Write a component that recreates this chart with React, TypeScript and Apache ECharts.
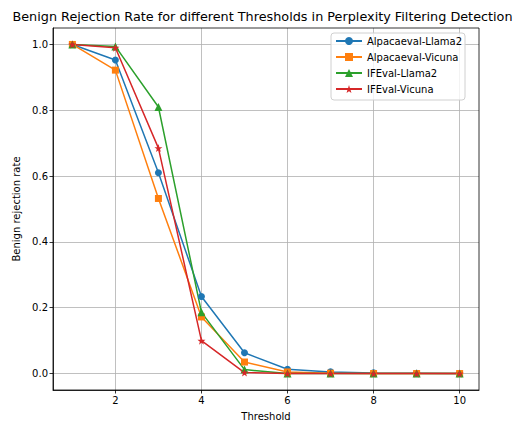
import React, { useEffect, useRef } from "react";
import * as echarts from "echarts";

const thresholds = [1, 2, 3, 4, 5, 6, 7, 8, 9, 10];
const alpacaLlama2 = [1.0, 0.953, 0.61, 0.234, 0.063, 0.013, 0.005, 0.002, 0.001, 0.0];
const alpacaVicuna = [1.0, 0.922, 0.532, 0.172, 0.035, 0.005, 0.001, 0.0, 0.0, 0.0];
const ifevalLlama2 = [1.0, 0.994, 0.81, 0.186, 0.012, 0.0, 0.0, 0.0, 0.0, 0.0];
const ifevalVicuna = [1.0, 0.99, 0.685, 0.1, 0.003, 0.0, 0.0, 0.0, 0.0, 0.0];
const xTicks = [2, 4, 6, 8, 10];
const yTicks = [0.0, 0.2, 0.4, 0.6, 0.8, 1.0];

const STAR =
  "path://M50,0 L61.8,35.4 L98.1,34.5 L69.1,56.5 L79.4,90.5 L50,70 L20.6,90.5 L30.9,56.5 L1.9,34.5 L38.2,35.4 Z";

const FONT = "DejaVu Sans";
const GL = 53, GR = 46, GT = 28, GB = 37;

export default function App() {
  const ref = useRef<HTMLDivElement>(null);
  useEffect(() => {
    if (!ref.current) return;
    const chart = echarts.init(ref.current, undefined, { renderer: "svg" });
    const mk = (name: string, vals: number[], color: string, symbol: string, size: number) => ({
      name,
      type: "line",
      data: thresholds.map((t, i) => [t, vals[i]]),
      symbol,
      symbolSize: size,
      showAllSymbol: true,
      lineStyle: { color, width: 1.5 },
      itemStyle: { color, borderWidth: 0 },
      emphasis: { disabled: true },
    });
    chart.setOption({
      animation: false,
      textStyle: { fontFamily: FONT },
      title: {
        text: "Benign Rejection Rate for different Thresholds in Perplexity Filtering Detection",
        left: "center",
        top: 5,
        textStyle: { fontFamily: FONT, fontSize: 12.8, fontWeight: "normal", color: "#000" },
      },
      legend: {
        left: 331,
        top: 33,
        orient: "vertical",
        itemWidth: 26,
        itemHeight: 10,
        itemGap: 6,
        padding: [3, 3, 6, 4],
        borderColor: "#d0d0d0",
        borderWidth: 1,
        borderRadius: 3,
        backgroundColor: "rgba(255,255,255,0.8)",
        textStyle: { fontFamily: FONT, fontSize: 10, color: "#000" },
        data: ["Alpacaeval-Llama2", "Alpacaeval-Vicuna", "IFEval-Llama2", "IFEval-Vicuna"],
      },
      grid: { left: GL, right: GR, top: GT, bottom: GB, containLabel: false, show: false },
      xAxis: {
        type: "value",
        min: 0.55,
        max: 10.45,
        name: "Threshold",
        nameLocation: "middle",
        nameGap: 21,
        nameTextStyle: { fontFamily: FONT, fontSize: 10, color: "#000" },
        axisLine: { show: true, onZero: false, lineStyle: { color: "#000", width: 0.8 } },
        axisTick: { show: true, length: 3.5, customValues: xTicks, lineStyle: { color: "#000", width: 0.8 } },
        axisLabel: { customValues: xTicks, fontFamily: FONT, fontSize: 10, color: "#000", margin: 5 },
        splitLine: { show: true, lineStyle: { color: "#b0b0b0", width: 0.8 } },
      },
      yAxis: {
        type: "value",
        min: -0.05,
        max: 1.05,
        name: "Benign rejection rate",
        nameLocation: "middle",
        nameGap: 32,
        nameTextStyle: { fontFamily: FONT, fontSize: 10, color: "#000" },
        axisLine: { show: true, onZero: false, lineStyle: { color: "#000", width: 0.8 } },
        axisTick: { show: true, length: 3.5, customValues: yTicks, lineStyle: { color: "#000", width: 0.8 } },
        axisLabel: {
          customValues: yTicks,
          fontFamily: FONT,
          fontSize: 10,
          color: "#000",
          margin: 5,
          formatter: (v: number) => v.toFixed(1),
        },
        splitLine: { show: true, lineStyle: { color: "#b0b0b0", width: 0.8 } },
      },
      series: [
        mk("Alpacaeval-Llama2", alpacaLlama2, "#1f77b4", "circle", 7),
        mk("Alpacaeval-Vicuna", alpacaVicuna, "#ff7f0e", "rect", 7),
        mk("IFEval-Llama2", ifevalLlama2, "#2ca02c", "triangle", 8),
        mk("IFEval-Vicuna", ifevalVicuna, "#d62728", STAR, 8),
      ],
      graphic: [
        {
          type: "rect",
          shape: { x: GL, y: GT, width: 525 - GL - GR, height: 427 - GT - GB },
          style: { fill: "none", stroke: "#000", lineWidth: 0.8 },
          silent: true,
          z: 100,
        },
      ],
    });
    return () => chart.dispose();
  }, []);
  return <div ref={ref} style={{ width: 525, height: 427, position: "absolute", left: 0, top: 0 }} />;
}
